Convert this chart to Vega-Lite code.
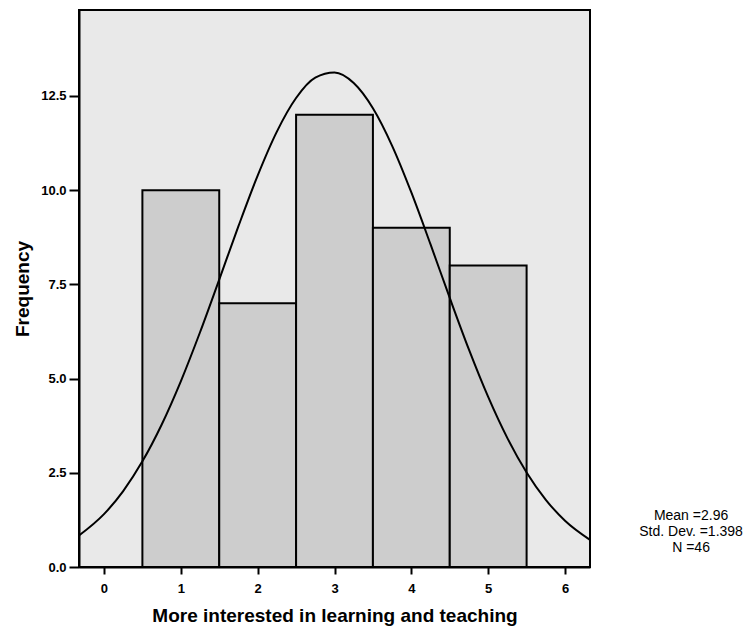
{
  "$schema": "https://vega.github.io/schema/vega-lite/v6.json",
  "width": 511,
  "height": 557,
  "autosize": {"type": "none"},
  "padding": {"left": 79, "top": 10, "right": 164, "bottom": 65},
  "background": "white",
  "config": {
    "font": "Liberation Sans",
    "view": {"fill": "#e9e9e9", "stroke": "black", "strokeWidth": 2},
    "axis": {"grid": false, "domainColor": "black", "domainWidth": 2, "tickColor": "black", "tickWidth": 2, "labelFont": "Liberation Sans", "labelFontWeight": "bold", "labelFontSize": 13, "labelColor": "black", "titleFont": "Liberation Sans", "titleFontWeight": "bold", "titleColor": "black"}
  },
  "datasets": {
    "bars": [
      {"bin_start": 0.5, "bin_end": 1.5, "count": 10},
      {"bin_start": 1.5, "bin_end": 2.5, "count": 7},
      {"bin_start": 2.5, "bin_end": 3.5, "count": 12},
      {"bin_start": 3.5, "bin_end": 4.5, "count": 9},
      {"bin_start": 4.5, "bin_end": 5.5, "count": 8}
    ],
    "curve": [
      {"x": -0.325, "y": 0.835}, {"x": 0, "y": 1.402}, {"x": 0.25, "y": 2.014}, {"x": 0.5, "y": 2.803},
      {"x": 0.75, "y": 3.776}, {"x": 1, "y": 4.928}, {"x": 1.25, "y": 6.229}, {"x": 1.5, "y": 7.627},
      {"x": 1.75, "y": 9.043}, {"x": 2, "y": 10.385}, {"x": 2.25, "y": 11.552}, {"x": 2.5, "y": 12.444},
      {"x": 2.75, "y": 12.984}, {"x": 3, "y": 13.121}, {"x": 3.25, "y": 12.842}, {"x": 3.5, "y": 12.173},
      {"x": 3.75, "y": 11.176}, {"x": 4, "y": 9.938}, {"x": 4.25, "y": 8.559}, {"x": 4.5, "y": 7.14},
      {"x": 4.75, "y": 5.768}, {"x": 5, "y": 4.513}, {"x": 5.25, "y": 3.42}, {"x": 5.5, "y": 2.51},
      {"x": 5.75, "y": 1.784}, {"x": 6, "y": 1.228}, {"x": 6.325, "y": 0.721}
    ],
    "stats": [
      {"label": "Mean =2.96", "x": 7.64, "y": 1.353},
      {"label": "Std. Dev. =1.398", "x": 7.64, "y": 0.929},
      {"label": "N =46", "x": 7.64, "y": 0.504}
    ]
  },
  "layer": [
    {
      "data": {"name": "bars"},
      "mark": {"type": "bar", "fill": "#cdcdcd", "stroke": "black", "strokeWidth": 2},
      "encoding": {
        "x": {"field": "bin_start", "type": "quantitative",
              "scale": {"domain": [-0.325, 6.325], "nice": false, "zero": false},
              "axis": {"values": [0, 1, 2, 3, 4, 5, 6], "format": "d", "title": "More interested in learning and teaching", "titleFontSize": 19, "tickSize": 7, "labelPadding": 8, "titlePadding": 11}},
        "x2": {"field": "bin_end"},
        "y": {"field": "count", "type": "quantitative",
              "scale": {"domain": [0, 14.78], "nice": false},
              "axis": {"values": [0, 2.5, 5, 7.5, 10, 12.5], "format": ".1f", "title": "Frequency", "titleFontSize": 19, "tickSize": 10, "labelPadding": 3, "titlePadding": 8}},
        "y2": {"datum": 0}
      }
    },
    {
      "data": {"name": "curve"},
      "mark": {"type": "line", "color": "black", "strokeWidth": 2, "interpolate": "monotone"},
      "encoding": {
        "x": {"field": "x", "type": "quantitative"},
        "y": {"field": "y", "type": "quantitative"}
      }
    },
    {
      "data": {"name": "stats"},
      "mark": {"type": "text", "fontSize": 14, "align": "center", "baseline": "middle", "color": "black", "font": "Liberation Sans"},
      "encoding": {
        "x": {"field": "x", "type": "quantitative"},
        "y": {"field": "y", "type": "quantitative"},
        "text": {"field": "label"}
      }
    }
  ]
}
